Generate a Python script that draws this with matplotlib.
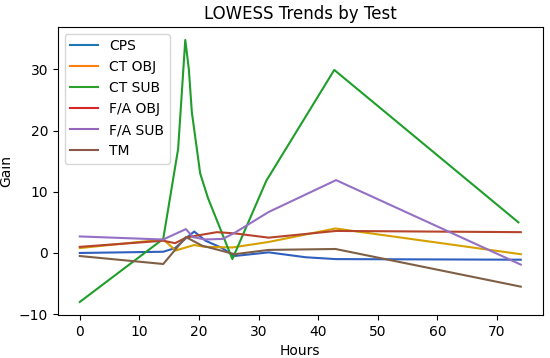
import matplotlib
matplotlib.use("Agg")
import matplotlib.pyplot as plt
from matplotlib.lines import Line2D

# LOWESS fitted values, per test
tests = ["CPS", "CT OBJ", "CT SUB", "F/A OBJ", "F/A SUB", "TM"]

cps_h = [0, 14, 16, 17.8, 19.2, 21.1, 23.9, 25.9, 31.7, 37.9, 42.9, 74]
cps_g = [0.0, 0.2, 0.8, 2.4, 3.5, 2.0, 0.8, -0.5, 0.1, -0.7, -1.0, -1.1]

ctobj_h = [0, 14, 16.1, 17.8, 19.2, 21, 25.6, 31.7, 42.9, 74]
ctobj_g = [0.8, 2.2, 0.4, 0.9, 1.3, 1.0, 0.9, 1.8, 4.0, -0.2]

ctsub_h = [0, 14, 16.5, 17.7, 18.3, 18.8, 20.2, 21.5, 25.6, 31.3, 42.7, 73.6]
ctsub_g = [-8.0, 2.3, 17.0, 34.8, 30.0, 23.0, 13.0, 9.0, -1.0, 11.8, 29.9, 5.0]

faobj_h = [0, 14, 16, 17.8, 20, 23, 26, 31.7, 43, 74]
faobj_g = [1.0, 2.0, 1.6, 2.5, 2.9, 3.4, 3.2, 2.5, 3.6, 3.4]

fasub_h = [0, 14, 17.8, 19, 21, 24, 26, 31.7, 43, 74]
fasub_g = [2.7, 2.2, 3.9, 2.6, 2.2, 2.3, 3.3, 6.7, 11.9, -1.9]

tm_h = [0, 14, 17.8, 20.5, 26, 31.7, 42.9, 74]
tm_g = [-0.5, -1.8, 2.6, 1.2, -0.2, 0.5, 0.65, -5.5]

hours = [cps_h, ctobj_h, ctsub_h, faobj_h, fasub_h, tm_h]
gains = [cps_g, ctobj_g, ctsub_g, faobj_g, fasub_g, tm_g]

# the drawn lines look a bit muted next to the legend swatches
line_colors = ["#2f5fbf", "#d6a000", "#1f9e2a", "#b5442a", "#9470c4", "#7f5f45"]
legend_colors = ["#1f77b4", "#ff7f0e", "#2ca02c", "#d62728", "#9467bd", "#8c564b"]

fig = plt.figure(figsize=(5.5, 3.58), dpi=100)
ax = fig.add_axes([0.105, 0.12, 0.882, 0.805])

for h, g, c in zip(hours, gains, line_colors):
    ax.plot(h, g, color=c, linewidth=1.5)

handles = [Line2D([], [], color=c, linewidth=1.5) for c in legend_colors]
ax.legend(handles, tests, loc="upper left")

ax.set_title("LOWESS Trends by Test")
ax.set_xlabel("Hours")
ax.set_ylabel("Gain")

fig.savefig("out.png", dpi=100)
